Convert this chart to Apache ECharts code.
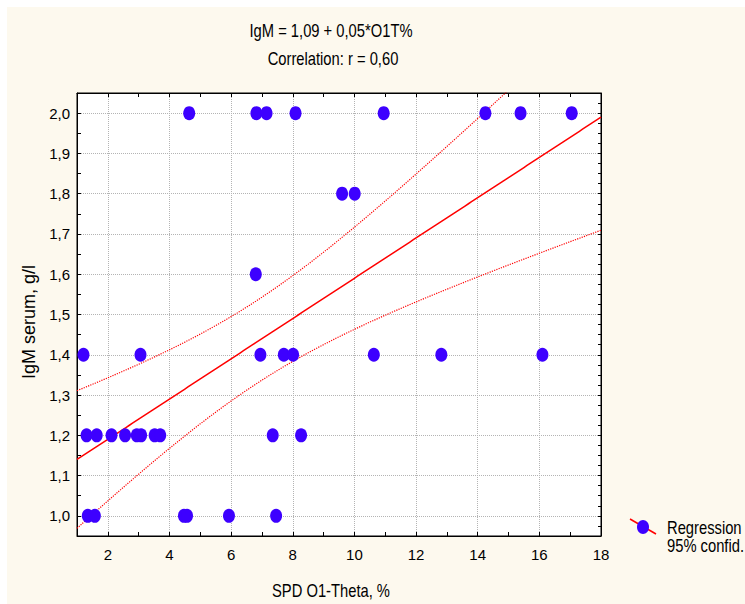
<!DOCTYPE html>
<html>
<head>
<meta charset="utf-8">
<title>IgM serum vs SPD O1-Theta</title>
<script src="https://cdn.jsdelivr.net/npm/echarts@6/dist/echarts.min.js"></script>
<style>
  html, body { margin: 0; padding: 0; background: #ffffff; }
  #chart { width: 745px; height: 604px; }
</style>
</head>
<body>
<div id="chart"></div>
<script>
// Observations grouped by IgM level (g/l); x = SPD O1-Theta, %
const igmLevels = [2.0, 1.8, 1.6, 1.4, 1.2, 1.0];
const thetaAt20 = [4.64, 6.82, 7.15, 8.09, 10.95, 14.25, 15.39, 17.05];
const thetaAt18 = [9.60, 10.01];
const thetaAt16 = [6.80];
const thetaAt14 = [1.21, 3.06, 6.95, 7.71, 8.01, 10.63, 12.82, 16.10];
const thetaAt12 = [1.31, 1.64, 2.12, 2.56, 2.94, 3.08, 3.52, 3.70, 7.35, 8.27];
const thetaAt10 = [1.35, 1.58, 4.47, 4.57, 5.93, 7.46];

// Regression as printed in the heading: IgM = 1,09 + 0,05*O1T%
const fitIntercept = 1.09;
const fitSlope = 0.05;

// Axis ticks
const xTickValues = [2, 4, 6, 8, 10, 12, 14, 16, 18];
const xTickLabels = ['2', '4', '6', '8', '10', '12', '14', '16', '18'];
const yTickValues = [1.0, 1.1, 1.2, 1.3, 1.4, 1.5, 1.6, 1.7, 1.8, 1.9, 2.0];
const yTickLabels = ['1,0', '1,1', '1,2', '1,3', '1,4', '1,5', '1,6', '1,7', '1,8', '1,9', '2,0'];

const headingLines = ['IgM = 1,09 + 0,05*O1T%', 'Correlation: r = 0,60'];
const xTitle = 'SPD O1-Theta, %';
const yTitle = 'IgM serum, g/l';
const legendLines = ['Regression', '95% confid.'];

// ---- build point list ----
const groups = [thetaAt20, thetaAt18, thetaAt16, thetaAt14, thetaAt12, thetaAt10];
const points = [];
groups.forEach((xs, gi) => xs.forEach(x => points.push([x, igmLevels[gi]])));

// ---- 95% confidence band of the mean around the regression line ----
const n = points.length;
const meanX = points.reduce((s, p) => s + p[0], 0) / n;
const meanY = points.reduce((s, p) => s + p[1], 0) / n;
let sxx = 0, sxy = 0, syy = 0;
points.forEach(p => {
  sxx += (p[0] - meanX) ** 2;
  sxy += (p[0] - meanX) * (p[1] - meanY);
  syy += (p[1] - meanY) ** 2;
});
const df = n - 2;
const rss = syy - sxy * sxy / sxx;
const sRes = Math.sqrt(rss / df);
// Student t quantile (0.975) via Cornish-Fisher expansion
const z = 1.959964;
const tCrit = z + (z ** 3 + z) / (4 * df) + (5 * z ** 5 + 16 * z ** 3 + 3 * z) / (96 * df * df);

const xMin = 1, xMax = 18;
const fitLine = [], bandUpper = [], bandLower = [];
for (let i = 0; i <= 170; i++) {
  const x = xMin + (xMax - xMin) * i / 170;
  const yHat = fitIntercept + fitSlope * x;
  const h = tCrit * sRes * Math.sqrt(1 / n + (x - meanX) ** 2 / sxx);
  fitLine.push([x, yHat]);
  bandUpper.push([x, yHat + h]);
  bandLower.push([x, yHat - h]);
}

const sans = "'Liberation Sans', Arial, sans-serif";
const narrowScale = 0.82;   // condensed look for horizontal captions
const gridGray = '#b4b4b4';
const pointBlue = '#3d00ff';
const fitRed = '#ff0000';

function near(a, b) { return Math.abs(a - b) < 1e-6; }

function caption(text, x, y, align) {
  return {
    type: 'text', x: x, y: y, scaleX: narrowScale, scaleY: 1,
    style: { text: text, font: '18px ' + sans, fill: '#000', align: align, verticalAlign: 'middle' }
  };
}

const chart = echarts.init(document.getElementById('chart'), null, { renderer: 'svg' });

chart.setOption({
  backgroundColor: 'transparent',
  animation: false,
  grid: {
    left: 77, top: 93, right: 144, bottom: 68,
    show: true, backgroundColor: '#ffffff', borderColor: '#000000', borderWidth: 1
  },
  xAxis: [{
    type: 'value', position: 'bottom', min: xMin, max: xMax, interval: 1,
    axisLine: { show: true, onZero: false, lineStyle: { color: '#000', width: 1 } },
    axisTick: { show: true, inside: true, length: 4, lineStyle: { color: '#000' } },
    axisLabel: {
      color: '#000', fontFamily: sans, fontSize: 15, margin: 11,
      formatter: v => { const i = xTickValues.findIndex(t => near(t, v)); return i >= 0 ? xTickLabels[i] : ''; }
    },
    splitLine: { show: true, lineStyle: { type: 'dotted', color: ['rgba(0,0,0,0)', gridGray], width: 1 } }
  }, {
    type: 'value', position: 'top', min: xMin, max: xMax, interval: 1,
    axisLine: { show: true, onZero: false, lineStyle: { color: '#000', width: 1 } },
    axisTick: { show: true, inside: true, length: 4, lineStyle: { color: '#000' } },
    axisLabel: { show: false }, splitLine: { show: false }
  }],
  yAxis: [{
    type: 'value', position: 'left', min: 0.95, max: 2.05, interval: 0.05,
    axisLine: { show: true, onZero: false, lineStyle: { color: '#000', width: 1 } },
    axisTick: { show: true, inside: true, length: 4, lineStyle: { color: '#000' } },
    axisLabel: {
      color: '#000', fontFamily: sans, fontSize: 15, margin: 7,
      formatter: v => { const i = yTickValues.findIndex(t => near(t, v)); return i >= 0 ? yTickLabels[i] : ''; }
    },
    splitLine: { show: true, lineStyle: { type: 'dotted', color: ['rgba(0,0,0,0)', gridGray], width: 1 } }
  }, {
    type: 'value', position: 'right', min: 0.95, max: 2.05, interval: 0.025,
    axisLine: { show: true, onZero: false, lineStyle: { color: '#000', width: 1 } },
    axisTick: { show: true, inside: true, length: 3, lineStyle: { color: '#000' } },
    axisLabel: { show: false }, splitLine: { show: false }
  }],
  series: [{
    name: 'conf-upper', type: 'line', data: bandUpper, showSymbol: false, symbol: 'none',
    lineStyle: { color: fitRed, width: 1.2, type: 'dotted' }, clip: true, z: 2, silent: true
  }, {
    name: 'conf-lower', type: 'line', data: bandLower, showSymbol: false, symbol: 'none',
    lineStyle: { color: fitRed, width: 1.2, type: 'dotted' }, clip: true, z: 2, silent: true
  }, {
    name: 'regression', type: 'line', data: fitLine, showSymbol: false, symbol: 'none',
    lineStyle: { color: fitRed, width: 1.5 }, clip: true, z: 3, silent: true
  }, {
    name: 'IgM', type: 'scatter', data: points, symbol: 'circle', symbolSize: [12, 14],
    itemStyle: { color: pointBlue, opacity: 1 }, z: 4, silent: true
  }],
  graphic: [
    { type: 'rect', z: -100, silent: true, shape: { x: 7, y: 7, width: 745, height: 604 }, style: { fill: '#fdf9ee' } },
    caption(headingLines[0], 331, 30, 'center'),
    caption(headingLines[1], 333, 58, 'center'),
    caption(xTitle, 331, 590, 'center'),
    { type: 'text', x: 29, y: 322, rotation: Math.PI / 2,
      style: { text: yTitle, font: '18px ' + sans, fill: '#000', align: 'center', verticalAlign: 'middle' } },
    // legend key: regression line through a point marker
    { type: 'line', shape: { x1: 630, y1: 519, x2: 656, y2: 534 }, style: { stroke: fitRed, lineWidth: 1.5 } },
    { type: 'ellipse', shape: { cx: 643, cy: 527, rx: 6, ry: 7 }, style: { fill: pointBlue } },
    caption(legendLines[0], 667, 527, 'left'),
    caption(legendLines[1], 667, 545, 'left')
  ]
});
</script>
</body>
</html>
